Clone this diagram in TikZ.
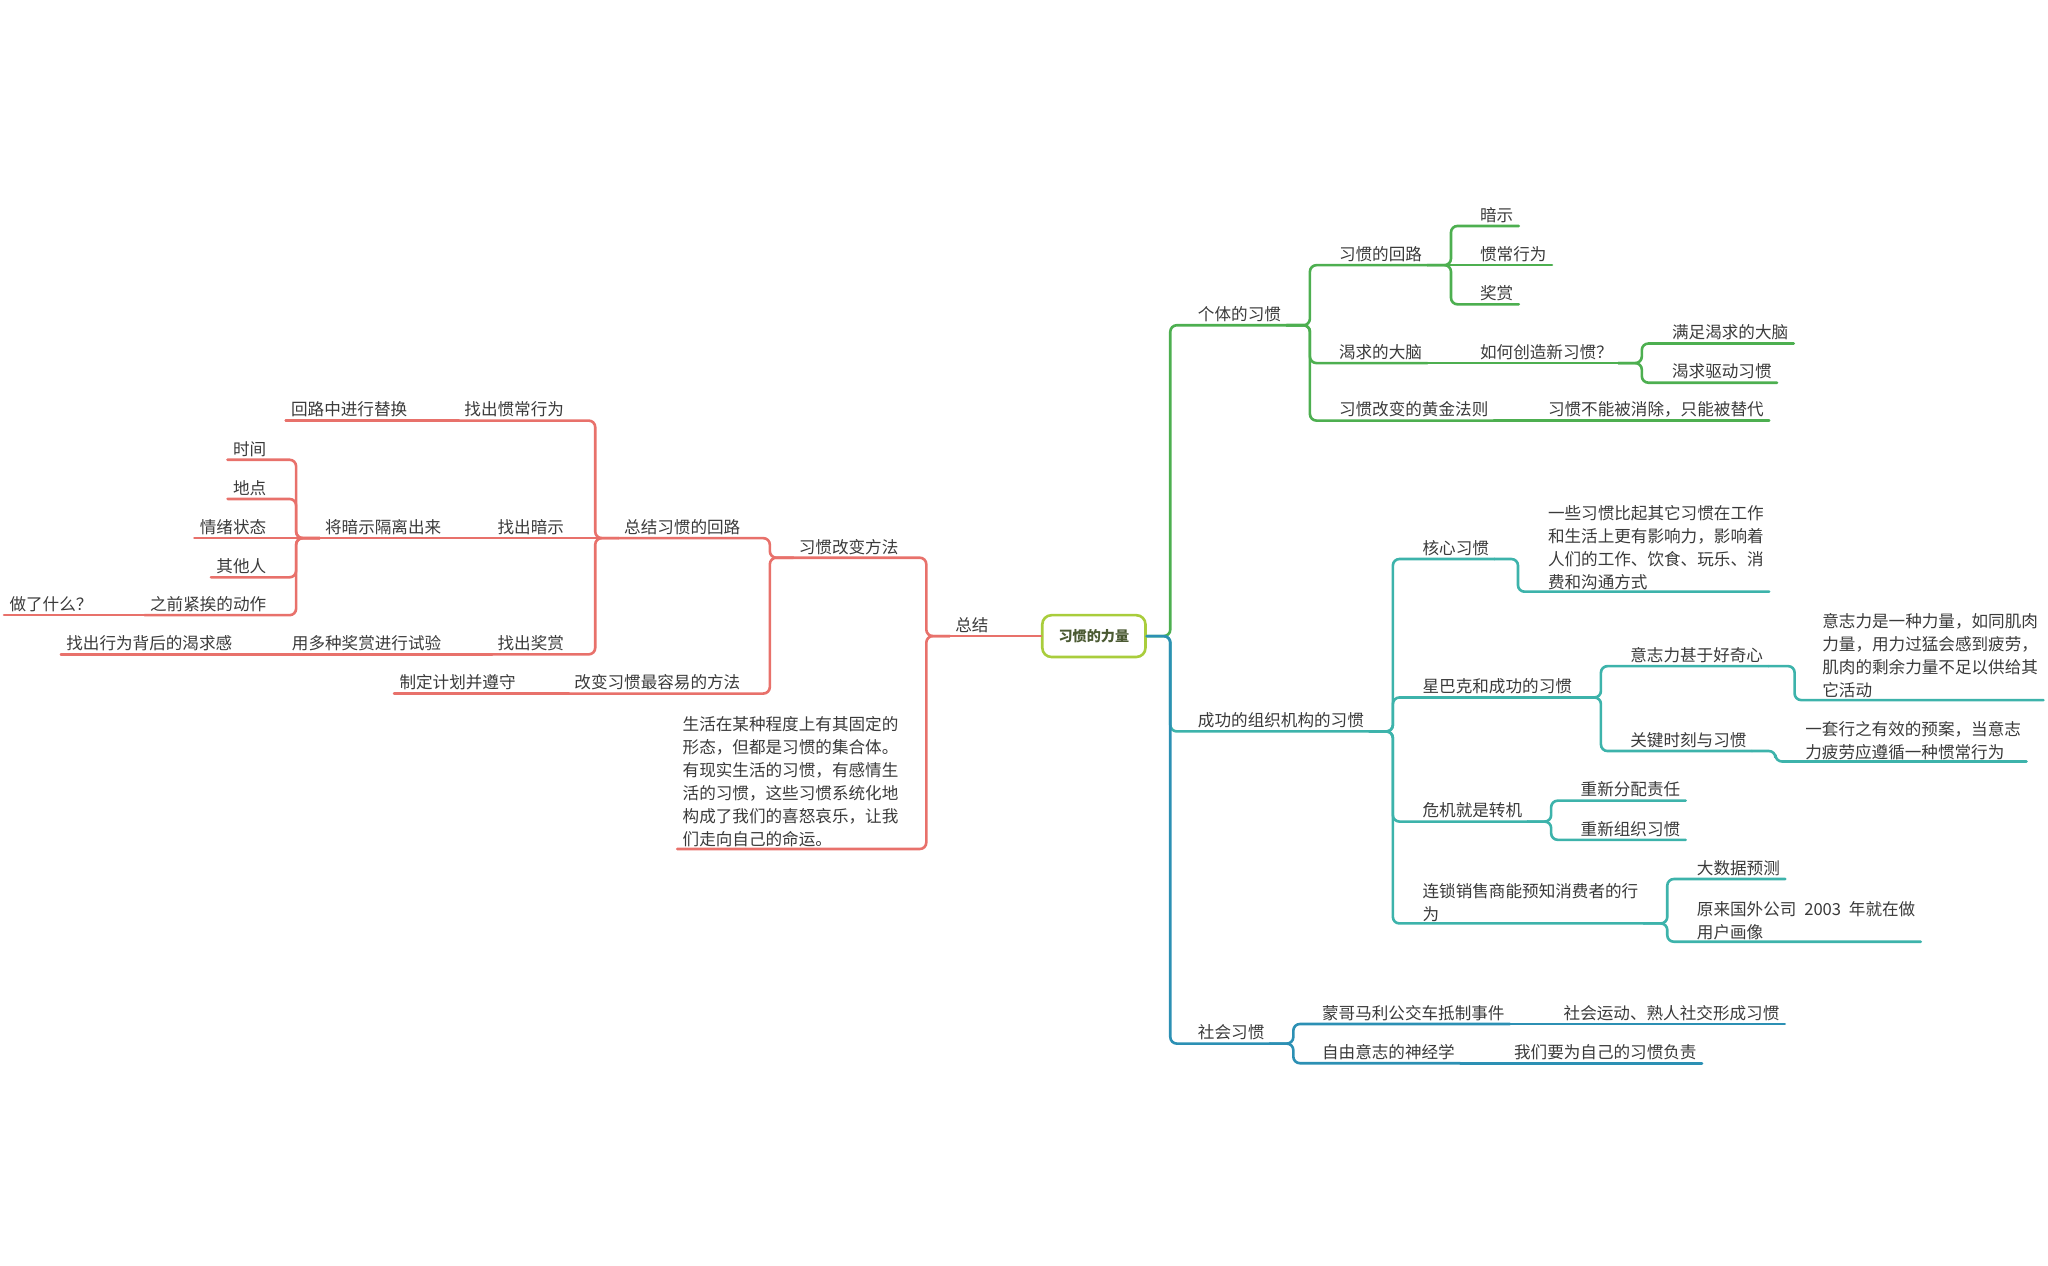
\documentclass[tikz,border=0pt]{standalone}
\usepackage{fontspec}
\setmainfont{Noto Sans CJK SC}
\definecolor{txt}{HTML}{3A3A3A}
\definecolor{rootline}{HTML}{A9CD3C}
\definecolor{roottxt}{HTML}{4B5A33}
\definecolor{redb}{HTML}{E8716B}
\definecolor{grnb}{HTML}{4DAF50}
\definecolor{tealb}{HTML}{3DB3AB}
\definecolor{blueb}{HTML}{2C90B4}
\newcommand{\dstrut}{\rule[-2.4pt]{0pt}{0pt}}
\begin{document}
\begin{tikzpicture}[x=1pt,y=-1pt,
  topic/.style={font=\fontsize{12.7}{17.6}\selectfont, text=txt, inner xsep=4pt, inner ysep=1pt},
  rt/.style={topic, anchor=south west, text height=9.5pt, text depth=2.4pt},
  lt/.style={topic, anchor=south east, text height=9.5pt, text depth=2.4pt},
  rtp/.style={topic, anchor=south west, align=left, inner ysep=0pt, execute at end node=\dstrut},
  ltp/.style={topic, anchor=south east, align=left, inner ysep=0pt, execute at end node=\dstrut},
  rootbox/.style={draw=rootline, line width=2pt, fill=white, rounded corners=7pt,
    minimum width=79pt, minimum height=32pt, inner sep=0pt,
    font=\fontsize{10.8}{12}\selectfont\bfseries, text=roottxt},
  wire/.style={line width=2pt, rounded corners=5pt, line cap=round},
  gw/.style={wire, draw=grnb},
  tw/.style={wire, draw=tealb},
  bw/.style={wire, draw=blueb},
  rw/.style={wire, draw=redb}]
\useasboundingbox (0,0) rectangle (1568,969);

% ---- right side: individual habits ----
\node[rt] (g1) at (913,249) {个体的习惯};
\node[rt] (g11) at (1021,203) {习惯的回路};
\node[rt] (g111) at (1129,173) {暗示};
\node[rt] (g112) at (1129,203) {惯常行为};
\node[rt] (g113) at (1129,233) {奖赏};
\node[rt] (g12) at (1021,278) {渴求的大脑};
\node[rt] (g121) at (1129,278) {如何创造新习惯？};
\node[rt] (g1211) at (1276,263) {满足渴求的大脑};
\node[rt] (g1212) at (1276,293) {渴求驱动习惯};
\node[rt] (g13) at (1021,322) {习惯改变的黄金法则};
\node[rt] (g131) at (1181,322) {习惯不能被消除，只能被替代};

% ---- right side: organisations ----
\node[rt] (t1) at (913,560) {成功的组织机构的习惯};
\node[rt] (t11) at (1085,428) {核心习惯};
\node[rtp] (t111) at (1181,453) {一些习惯比起其它习惯在工作\\和生活上更有影响力，影响着\\人们的工作、饮食、玩乐、消\\费和沟通方式};
\node[rt] (t12) at (1085,534) {星巴克和成功的习惯};
\node[rt] (t121) at (1244,510) {意志力甚于好奇心};
\node[rtp] (t1211) at (1391,536) {意志力是一种力量，如同肌肉\\力量，用力过猛会感到疲劳，\\肌肉的剩余力量不足以供给其\\它活动};
\node[rt] (t122) at (1244,575) {关键时刻与习惯};
\node[rtp] (t1221) at (1378,583) {一套行之有效的预案，当意志\\力疲劳应遵循一种惯常行为};
\node[rt] (t13) at (1085,629) {危机就是转机};
\node[rt] (t131) at (1206,613) {重新分配责任};
\node[rt] (t132) at (1206,643) {重新组织习惯};
\node[rtp] (t14) at (1085,707) {连锁销售商能预知消费者的行\\为};
\node[rt] (t141) at (1295,673) {大数据预测};
\node[rtp] (t142) at (1295,721) {原来国外公司\hspace{6pt}2003\hspace{6pt}年就在做\\用户画像};

% ---- right side: social habits ----
\node[rt] (b1) at (913,799) {社会习惯};
\node[rt] (b11) at (1008,784) {蒙哥马利公交车抵制事件};
\node[rt] (b111) at (1193,784) {社会运动、熟人社交形成习惯};
\node[rt] (b12) at (1008,814) {自由意志的神经学};
\node[rt] (b121) at (1155,814) {我们要为自己的习惯负责};

% ---- left side: summary ----
\node[lt] (r1) at (761,487) {总结};
\node[lt] (r11) at (692,427) {习惯改变方法};
\node[ltp] (r12) at (692,650) {生活在某种程度上有其固定的\\形态，但都是习惯的集合体。\\有现实生活的习惯，有感情生\\活的习惯，这些习惯系统化地\\构成了我们的喜怒哀乐，让我\\们走向自己的命运。};
\node[lt] (r111) at (571,412) {总结习惯的回路};
\node[lt] (r112) at (571,531) {改变习惯最容易的方法};
\node[lt] (r1121) at (399,531) {制定计划并遵守};
\node[lt] (r1111) at (436,322) {找出惯常行为};
\node[lt] (r11111) at (316,322) {回路中进行替换};
\node[lt] (r1112) at (436,412) {找出暗示};
\node[lt] (r11121) at (342,412) {将暗示隔离出来};
\node[lt] (c1) at (208,352) {时间};
\node[lt] (c2) at (208,382) {地点};
\node[lt] (c3) at (208,412) {情绪状态};
\node[lt] (c4) at (208,442) {其他人};
\node[lt] (c5) at (208,471) {之前紧挨的动作};
\node[lt] (c51) at (75,471) {做了什么？};
\node[lt] (r1113) at (436,501) {找出奖赏};
\node[lt] (r11131) at (342,501) {用多种奖赏进行试验};
\node[lt] (r111311) at (182,501) {找出行为背后的渴求感};

% ---- central topic ----
\node[rootbox] (root) at (837.5,487) {习惯的力量};

% ---- green branch ----
\draw[gw] (root.east) -- ++(18,0) |- (g1.south east);
\draw[gw] (g1.south east) -- ++(18,0) |- (g11.south east);
\draw[gw] (g1.south east) -- ++(18,0) |- (g12.south east);
\draw[gw] (g1.south east) -- ++(18,0) |- (g13.south east);
\draw[gw] (g11.south east) -- ++(18,0) |- (g111.south east);
\draw[gw] (g11.south east) -- (g112.south east);
\draw[gw] (g11.south east) -- ++(18,0) |- (g113.south east);
\draw[gw] (g12.south east) -- (g121.south east);
\draw[gw] (g121.south east) -- ++(18,0) |- (g1211.south east);
\draw[gw] (g121.south east) -- ++(18,0) |- (g1212.south east);
\draw[gw] (g13.south east) -- (g131.south east);

% ---- teal branch ----
\draw[tw] (root.east) -- ++(18,0) |- (t1.south east);
\draw[tw] (t1.south east) -- ++(18,0) |- (t11.south east);
\draw[tw] (t1.south east) -- ++(18,0) |- (t12.south east);
\draw[tw] (t1.south east) -- ++(18,0) |- (t13.south east);
\draw[tw] (t1.south east) -- ++(18,0) |- (t14.south east);
\draw[tw] (t11.south east) -- ++(18,0) |- (t111.south east);
\draw[tw] (t12.south east) -- ++(18,0) |- (t121.south east);
\draw[tw] (t12.south east) -- ++(18,0) |- (t122.south east);
\draw[tw] (t121.south east) -- ++(20,0) |- (t1211.south east);
\draw[tw] (t122.south east) -- ++(18,0) |- (t1221.south east);
\draw[tw] (t13.south east) -- ++(18,0) |- (t131.south east);
\draw[tw] (t13.south east) -- ++(18,0) |- (t132.south east);
\draw[tw] (t14.south east) -- ++(18,0) |- (t141.south east);
\draw[tw] (t14.south east) -- ++(18,0) |- (t142.south east);

% ---- blue branch ----
\draw[bw] (root.east) -- ++(18,0) |- (b1.south east);
\draw[bw] (b1.south east) -- ++(18,0) |- (b11.south east);
\draw[bw] (b1.south east) -- ++(18,0) |- (b12.south east);
\draw[bw] (b11.south east) -- (b111.south east);
\draw[bw] (b12.south east) -- (b121.south east);

% ---- red branch ----
\draw[rw] (root.west) -- (r1.south west);
\draw[rw] (r1.south west) -- ++(-18,0) |- (r11.south west);
\draw[rw] (r1.south west) -- ++(-18,0) |- (r12.south west);
\draw[rw] (r11.south west) -- ++(-18,0) |- (r111.south west);
\draw[rw] (r11.south west) -- ++(-18,0) |- (r112.south west);
\draw[rw] (r112.south west) -- (r1121.south west);
\draw[rw] (r111.south west) -- ++(-18,0) |- (r1111.south west);
\draw[rw] (r111.south west) -- (r1112.south west);
\draw[rw] (r111.south west) -- ++(-18,0) |- (r1113.south west);
\draw[rw] (r1111.south west) -- (r11111.south west);
\draw[rw] (r1112.south west) -- (r11121.south west);
\draw[rw] (r11121.south west) -- ++(-18,0) |- (c1.south west);
\draw[rw] (r11121.south west) -- ++(-18,0) |- (c2.south west);
\draw[rw] (r11121.south west) -- (c3.south west);
\draw[rw] (r11121.south west) -- ++(-18,0) |- (c4.south west);
\draw[rw] (r11121.south west) -- ++(-18,0) |- (c5.south west);
\draw[rw] (c5.south west) -- (c51.south west);
\draw[rw] (r1113.south west) -- (r11131.south west);
\draw[rw] (r11131.south west) -- (r111311.south west);
\end{tikzpicture}
\end{document}
